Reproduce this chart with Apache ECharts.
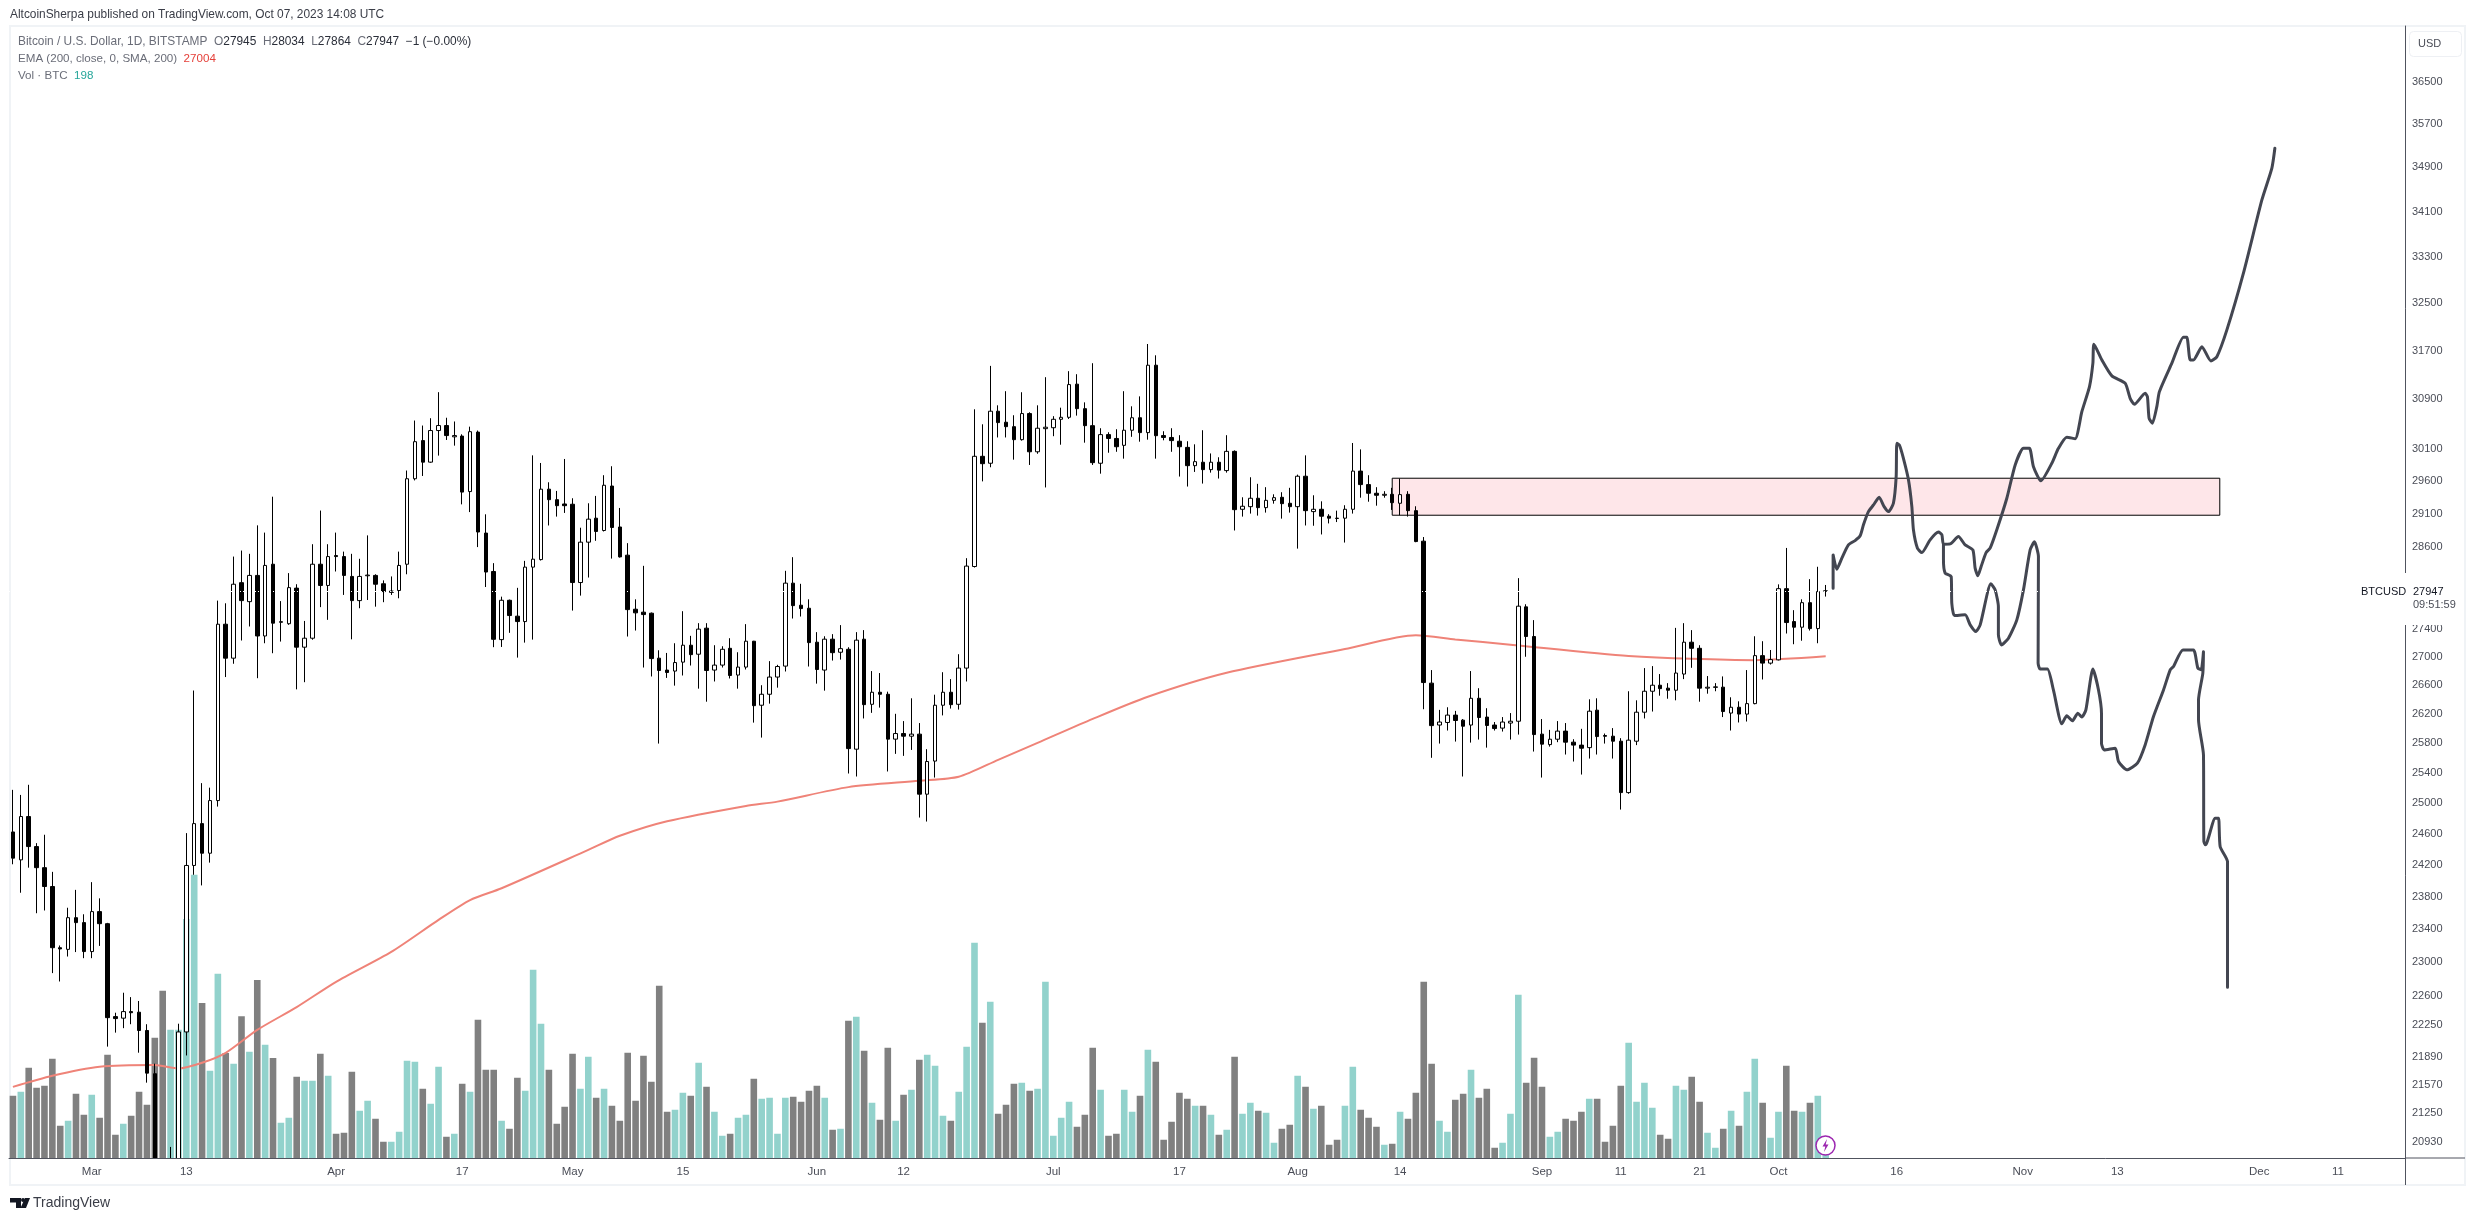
<!DOCTYPE html>
<html>
<head>
<meta charset="utf-8">
<style>html,body{margin:0;padding:0;background:#fff}#c{width:2475px;height:1221px}</style>
<script src="https://cdn.jsdelivr.net/npm/echarts@6/dist/echarts.min.js"></script>
</head>
<body>
<div id="c"></div>
<script>
const opens = [
24627,24269,24827,24439,24170,23932,23176,23156,23544,23483,
23129,23619,23470,22353,22335,22412,22405,22191,21693,20360,
20150,20450,22174,24198,24735,24354,25036,27463,26978,28068,
27790,28175,27294,28341,27490,27470,27988,27134,27262,28341,
28027,28470,28455,28160,27805,28170,28175,28052,27925,27953,
28341,29641,30240,29900,30400,30480,30300,30312,29442,30375,
28808,28233,27242,27810,27579,27501,28298,28410,29479,29317,
29251,29247,28070,28671,29034,28847,29528,28900,28476,27680,
27637,27622,26978,26810,26796,26922,27162,27034,27406,26810,
26880,27118,26740,26852,27219,26320,26472,26712,26866,28061,
27738,27694,27205,26810,27248,27062,27104,25720,27248,26333,
26500,26472,25856,25932,25896,25924,25120,25560,26320,26500,
26333,26838,28307,29992,29883,30710,30533,30462,30255,30672,
30063,30430,30445,30580,30612,31149,30751,30478,29883,30335,
30274,30165,30405,30605,30367,31460,30320,30290,30230,30133,
29845,29899,29783,29899,29768,30070,29170,29210,29339,29195,
29307,29354,29262,29210,29680,29134,29170,29064,29034,29034,
29170,29760,29550,29416,29385,29400,29262,29400,29149,28686,
26627,26048,26083,26184,26115,26048,26416,26157,26048,26006,
26075,26100,27714,27286,25924,25782,25855,25965,25815,25775,
25741,26252,25905,25896,25828,25141,25828,26224,26514,26598,
26557,26528,26754,27205,27118,26557,26568,26571,26212,26292,
26198,26342,27014,26908,26954,27980,27501,27420,27775,27400,
27945];
const highs = [
25177,25110,25244,24483,24591,24117,23203,23667,23890,23586,
23987,23784,23480,22399,22635,22583,22537,22264,21808,20370,
20876,22270,24612,26524,25266,25206,27805,27766,28455,28545,
28496,28925,28815,29363,27798,28209,28045,27510,28640,29150,
28640,28815,28529,28496,28422,28773,28192,28102,28160,28529,
29769,30560,30480,30597,31018,30605,30545,30340,30462,30400,
29093,28357,27863,27820,27992,28391,30007,29887,29586,29452,
29950,29339,28889,29262,29375,29696,29836,29190,28656,27824,
28317,27632,27090,27052,27190,27651,27296,27478,27478,27162,
27147,27262,27062,27464,27224,26598,26936,26884,28243,28446,
28051,27824,27349,27290,27320,27450,27133,27349,27378,26796,
26768,26508,26202,26102,26416,26075,25720,26466,26780,26683,
27034,28431,30741,30500,31449,30805,31034,30645,31017,30693,
30805,31263,30630,30767,31362,31312,30853,31493,30437,30373,
30421,31034,30789,30950,31812,31624,30389,30437,30326,30230,
30181,30405,30037,29977,30326,30085,29354,29664,29562,29510,
29400,29432,29500,29705,30007,29385,29292,29095,29149,29232,
30202,30101,29696,29510,29448,29500,29644,29448,29216,28748,
26810,26256,26292,26242,26130,26796,26556,26279,26089,26157,
26212,28135,27752,27522,26130,25982,26102,26075,25855,25996,
26402,26416,25932,26006,25869,26514,26388,26838,26866,26754,
26627,27410,27478,27378,27162,26726,26627,26721,26430,26374,
26810,27290,27219,27094,28043,28584,27666,27824,28120,28303,
28034];
const lows = [
24213,23854,24170,23599,23633,22869,22769,23069,23123,23049,
23049,23198,22004,22166,22218,22264,21934,21592,20050,19570,
19900,20300,21902,24080,23946,24234,24957,26712,26899,27229,
27430,26696,27190,27048,27214,27454,26540,26640,27240,27710,
27526,28233,27888,27246,27694,27814,27717,27782,27888,27839,
28192,29615,29684,29890,30003,30250,30160,29245,29127,28597,
28004,27134,27137,27339,26986,27199,27242,28396,28923,29058,
29114,27660,27878,28144,28691,28832,28425,28440,27286,27372,
26846,26720,25796,26700,26592,26734,26874,26550,26369,26650,
26846,26692,26550,26818,26081,25877,26342,26564,26790,27545,
27574,26860,26620,26522,26944,26958,25394,25354,26138,26215,
26287,25421,25657,25630,25710,24814,24762,25340,26180,26274,
26260,26650,28292,29600,29820,30290,30290,29939,30240,29856,
30032,29506,30310,30175,30585,30639,30207,29856,29720,30048,
30063,29955,30300,30223,30255,29955,30245,30063,29675,29520,
29747,29566,29736,29644,29736,28847,29058,29104,29073,29119,
29256,29027,29119,28574,28923,28919,28787,28954,28975,28665,
29104,29348,29286,29225,29348,29160,29079,29058,28670,26265,
25604,25796,25973,25823,25354,25809,25850,25741,25973,25959,
25850,25918,26998,25688,25340,25755,25815,25648,25554,25380,
25594,25648,25796,25594,24918,25125,25775,26138,26233,26452,
26410,26388,26683,26842,26369,26480,26514,26157,25973,26083,
26096,26333,26678,26888,26946,27329,27176,27226,27372,27190,
27864];
const closes = [
24291,24827,24439,24170,23932,23176,23161,23544,23483,23129,
23619,23470,22341,22330,22412,22399,22191,21700,20360,20150,
20450,22174,24198,24735,24354,25036,27463,26978,28045,27805,
28175,27294,28323,27478,27500,27995,27134,27262,28341,28027,
28455,28455,28175,27805,28160,28180,28045,27937,27945,28323,
29641,30223,29900,30400,30480,30320,30320,29434,30382,28824,
28225,27246,27810,27588,27501,28298,28416,29479,29317,29225,
29225,28070,28671,29019,28832,29540,28893,28450,27674,27627,
27602,26972,26804,26776,26916,27162,27028,27392,26804,26880,
27104,26734,26852,27219,26314,26472,26712,26860,28061,27732,
27689,27199,26818,27248,27056,27113,25728,27234,26328,26500,
26472,25856,25932,25896,25924,25120,25554,26320,26500,26328,
26838,28313,29992,29876,30710,30527,30462,30255,30672,30063,
30437,30453,30580,30612,31142,30751,30478,29892,30335,30274,
30143,30405,30605,30367,31460,30318,30290,30240,30143,29845,
29908,29783,29899,29775,30070,29164,29216,29339,29195,29307,
29348,29256,29210,29680,29149,29170,29064,29034,29030,29170,
29760,29550,29416,29385,29400,29271,29395,29149,28680,26635,
26040,26089,26184,26110,26032,26416,26151,26042,26000,26089,
26100,27724,27286,25918,25788,25855,25965,25815,25775,25733,
26238,25891,25895,25828,25141,25842,26224,26514,26598,26550,
26528,26768,27205,27118,26557,26570,26575,26233,26292,26198,
26342,27014,26908,26958,27980,27487,27420,27775,27400,27937,
27947];
const volumes = [
2490,2650,3610,2810,2890,3970,1290,1490,2570,1730,
2530,1610,4130,930,1370,1690,2650,2130,4810,6690,
5130,5130,9560,11330,6200,3490,7370,4200,3770,5670,
4250,7120,4530,4000,1410,1610,3250,3090,3090,4170,
3290,970,1010,3450,1890,2290,1570,650,650,1050,
3890,3850,2770,2170,3650,850,970,2970,2650,5530,
3530,3530,1490,1170,3210,2690,7530,5370,3530,1370,
2050,4170,2770,4050,2410,2770,2090,1490,4210,2290,
4090,3050,6890,1850,1930,2610,2490,3810,2850,1850,
890,970,1610,1730,3170,2370,2410,970,2410,2450,
2250,2690,2890,2410,1130,1170,5490,5650,4290,2210,
1530,4410,1490,2530,2730,3930,4130,3690,1690,1490,
2650,4450,8610,5410,6250,1770,2130,2970,3010,2690,
2770,7050,890,1610,2250,1250,1730,4410,2730,890,
970,2730,1850,2490,4330,3850,730,1450,2610,2370,
2090,2090,1730,930,1130,4050,1770,2210,1890,1810,
610,1170,1330,3290,2850,1970,2090,530,730,2090,
3650,1930,1610,1250,530,570,1850,1570,2610,7050,
3770,1490,1050,2330,2570,3530,2410,2770,410,610,
1770,6530,3010,4010,2850,850,1050,1570,1490,1850,
2370,2370,650,1290,2890,4610,2250,3010,2010,930,
770,2890,2730,3250,2250,1010,410,1170,1890,1290,
2650,3970,2210,810,1850,3690,1890,1850,2210,2490,
198];
const upVolumeDays = [1,7,10,14,20,21,22,23,25,26,28,30,32,34,35,37,38,40,44,45,48,49,50,51,53,54,56,58,62,65,66,67,72,73,75,84,85,87,89,90,92,93,95,96,97,98,103,105,107,109,112,114,116,117,118,120,121,122,124,128,130,131,132,133,134,138,141,142,144,150,152,154,156,157,159,160,163,165,169,170,174,176,181,182,185,189,190,191,195,196,200,205,206,207,208,211,212,215,216,218,220,221,223,224,227,229,230];
const emaDays = [0,5,11,18,21,24,27,31,36,41,48,54,58,62,73,77,83,93,97,106,115,120,125,130,137,144,154,169,178,183,190,205,221,230];
const emaValues = [21544,21670,21772,21792,21753,21818,21932,22198,22465,22765,23125,23517,23763,23910,24396,24578,24766,24966,25022,25213,25297,25350,25577,25805,26132,26438,26772,27108,27303,27245,27170,27010,26950,27004];

const bullPathDays = [230.94,230.94,231.41,232.05,232.88,233.73,234.37,234.79,235.42,236.06,236.78,237.41,237.96,238.59,238.94,239.03,239.35,239.86,240.5,240.93,241.13,241.64,242.2,243.25,244.31,244.74,244.94,245.79,246.84,247.69,248.67,248.96,249.3,249.72,250.35,250.86,251.71,252.98,254.04,255.09,255.85,256.36,257.3,258.69,259.53,260.59,261.65,262.5,263.47,263.9,264.03,265.04,266.31,267.99,268.63,269.17,270.53,270.82,271.03,271.45,272.01,272.34,273.92,275.39,275.82,276.24,276.66,277.73,278.87,279.63,280.9,283,285.34,286.61,286.99];
const bullPathPrices = [27987,28480,28268,28431,28630,28695,28767,28934,29134,29236,29354,29210,29134,29262,29673,30197,30170,29960,29624,29210,28858,28580,28514,28706,28823,28782,28640,28645,28756,28630,28554,28283,28169,28307,28514,28580,28858,29339,29856,30117,30117,29829,29608,29883,30117,30293,30271,30703,31109,31493,31808,31547,31285,31165,30918,30821,31000,30944,30597,30517,30783,31027,31493,31926,31926,31547,31547,31767,31531,31601,32048,33017,34309,34888,35252];
const bearPathDays = [244.94,244.94,245.15,245.92,246,246.33,247.69,248.33,249.05,249.6,250.96,251.5,251.91,251.91,252.3,253.19,254.25,255.09,255.94,256.48,256.99,256.95,257.21,258.13,258.89,259.96,260.59,261.3,261.99,262.5,263.01,263.9,264.61,264.99,264.99,265.33,266.73,267.15,268.21,269.55,270.53,271.59,272.86,273.71,274.13,275.32,276.66,277.22,277.64,277.93,277.85,277.3,277.3,277.93,277.98,278.19,279.42,279.84,280.05,280.98,280.98];
const bearPathPrices = [28640,28406,28209,28159,27766,27588,27598,27454,27358,27454,28051,27962,27717,27310,27166,27262,27526,27962,28554,28676,28455,26908,26824,26824,26532,26064,26174,26105,26211,26157,26256,26824,26532,26211,25801,25710,25733,25554,25444,25533,25778,26165,26532,26814,26860,27094,27094,26838,26814,27070,26768,26392,26120,25643,24504,24461,24806,24806,24437,24247,22701];
const zoneDays = [175, 280];
const zonePrices = [29649, 29079];

const priceTicks = [36500,35700,34900,34100,33300,32500,31700,30900,30100,29600,29100,28600,27400,27000,26600,26200,25800,25400,25000,24600,24200,23800,23400,23000,22600,22250,21890,21570,21250,20930];
const timeTicks = {'2023-03-01':'Mar','2023-03-13':'13','2023-04-01':'Apr','2023-04-17':'17','2023-05-01':'May','2023-05-15':'15','2023-06-01':'Jun','2023-06-12':'12','2023-07-01':'Jul','2023-07-17':'17','2023-08-01':'Aug','2023-08-14':'14','2023-09-01':'Sep','2023-09-11':'11','2023-09-21':'21','2023-10-01':'Oct','2023-10-16':'16','2023-11-01':'Nov','2023-11-13':'13','2023-12-01':'Dec','2023-12-11':'11'};

const startDate = Date.UTC(2023,1,19);
const slotCount = 304;
const categories = [];
for (let i=0;i<slotCount;i++) categories.push(new Date(startDate+i*864e5).toISOString().slice(0,10));
const upSet = new Set(upVolumeDays);
const FONT = '"Liberation Sans", Arial, sans-serif';
const GREY = '#6a6d78', DARK='#2a2e39', AXIS='#50535e';

const chart = echarts.init(document.getElementById('c'), null, {renderer:'canvas'});
chart.setOption({
  animation:false,
  backgroundColor:'#fff',
  textStyle:{fontFamily:FONT},
  grid:{left:9,right:70,top:26,bottom:63,containLabel:false},
  xAxis:[
    {type:'category',data:categories,boundaryGap:true,z:20,
     axisLine:{show:true,onZero:false,lineStyle:{color:AXIS,width:1}},axisTick:{show:false},splitLine:{show:false},
     axisLabel:{show:true,interval:(i,v)=>v in timeTicks,formatter:v=>timeTicks[v]||'',color:'#4a4d57',fontSize:11.5,margin:8,fontFamily:FONT,hideOverlap:false}},
    {type:'value',min:-0.5,max:slotCount-0.5,show:false,splitLine:{show:false}}
  ],
  yAxis:[
    {type:'log',logBase:Math.E,min:20755,max:37588,position:'right',scale:true,
     axisLine:{show:true,onZero:false,lineStyle:{color:AXIS,width:1}},axisTick:{show:false},splitLine:{show:false},minorTick:{show:false},
     axisLabel:{show:true,customValues:priceTicks,color:'#4a4d57',fontSize:11,margin:7,fontFamily:FONT,formatter:v=>String(Math.round(v)),hideOverlap:false}},
    {type:'value',min:0,max:45280,show:false,splitLine:{show:false}}
  ],
  series:[
    {type:'bar',name:'Vol',xAxisIndex:0,yAxisIndex:1,barWidth:6.6,z:1,silent:true,
     data:volumes.map((v,i)=>({value:v,itemStyle:{color:upSet.has(i)?'#92d2cc':'#808080'}}))},
    {type:'line',name:'Zone',xAxisIndex:1,yAxisIndex:0,z:2,silent:true,showSymbol:false,data:[],
     markArea:{silent:true,itemStyle:{color:'#fee6e9',borderColor:'#000',borderWidth:1,opacity:1},
       data:[[{xAxis:zoneDays[0],yAxis:zonePrices[0]},{xAxis:zoneDays[1],yAxis:zonePrices[1]}]]}},
    {type:'line',name:'EMA',xAxisIndex:1,yAxisIndex:0,z:3,silent:true,showSymbol:false,smooth:0.25,
     lineStyle:{color:'#ef8378',width:2},data:emaDays.map((d,i)=>[d,emaValues[i]])},
    {type:'candlestick',name:'BTCUSD',xAxisIndex:0,yAxisIndex:0,z:4,barWidth:4,silent:true,clip:true,
     itemStyle:{color:'#ffffff',color0:'#000000',borderColor:'#000000',borderColor0:'#000000',borderWidth:1},
     data:opens.map((o,i)=>[o,closes[i],lows[i],highs[i]])},
    {type:'line',name:'Bull path',xAxisIndex:1,yAxisIndex:0,z:5,silent:true,showSymbol:false,smooth:0.2,
     lineStyle:{color:'#434651',width:3,cap:'round',join:'round'},data:bullPathDays.map((d,i)=>[d,bullPathPrices[i]])},
    {type:'line',name:'Bear path',xAxisIndex:1,yAxisIndex:0,z:5,silent:true,showSymbol:false,smooth:0.2,
     lineStyle:{color:'#434651',width:3,cap:'round',join:'round'},data:bearPathDays.map((d,i)=>[d,bearPathPrices[i]]),
     markLine:{silent:true,symbol:'none',label:{show:false},z:6,lineStyle:{color:'#fff',width:1,type:[1,2]},data:[{yAxis:closes[closes.length-1]}]}}
  ],
  graphic:[
    {type:'rect',z:-1,silent:true,shape:{x:10,y:26,width:2455,height:1159},style:{fill:null,stroke:'#f0f3f6',lineWidth:2}},
    {type:'rect',z:10,silent:true,shape:{x:11,y:1159,width:2393,height:62},style:{fill:'#fff'}},
    {type:'line',z:11,silent:true,shape:{x1:10,y1:1185,x2:2465,y2:1185},style:{stroke:'#f0f3f6',lineWidth:2}},
    {type:'line',z:11,silent:true,shape:{x1:10,y1:1159,x2:10,y2:1185},style:{stroke:'#f0f3f6',lineWidth:2}},
    {type:'line',z:11,silent:true,shape:{x1:2405,y1:1158,x2:2465,y2:1158},style:{stroke:AXIS,lineWidth:1}},
    {type:'line',z:11,silent:true,shape:{x1:2405.5,y1:1158,x2:2405.5,y2:1185},style:{stroke:AXIS,lineWidth:1}},
    {type:'rect',z:10,silent:true,shape:{x:2355,y:573,width:108,height:52},style:{fill:'#fff'}},
    {type:'text',z:11,silent:true,x:2361,y:592,style:{text:'BTCUSD',fill:'#131722',font:'11px '+FONT,textVerticalAlign:'middle'}},
    {type:'text',z:11,silent:true,x:2413,y:592,style:{text:'27947',fill:'#131722',font:'11px '+FONT,textVerticalAlign:'middle'}},
    {type:'text',z:11,silent:true,x:2413,y:605,style:{text:'09:51:59',fill:'#4a4d57',font:'11px '+FONT,textVerticalAlign:'middle'}},
    {type:'rect',z:11,silent:true,shape:{x:2409.5,y:31.5,width:52,height:25,r:4},style:{fill:'#fff',stroke:'#eef0f4',lineWidth:1}},
    {type:'text',z:12,silent:true,x:2418,y:44,style:{text:'USD',fill:'#4a4d57',font:'11px '+FONT,textVerticalAlign:'middle'}},
    {type:'text',z:12,silent:true,x:10,y:15,style:{text:'AltcoinSherpa published on TradingView.com, Oct 07, 2023 14:08 UTC',fill:'#3a3d47',font:'11.9px '+FONT,textVerticalAlign:'middle'}},
    {type:'text',z:12,silent:true,x:18,y:42,style:{text:'{g|Bitcoin / U.S. Dollar, 1D, BITSTAMP  O}{d|27945}{g|  H}{d|28034}{g|  L}{d|27864}{g|  C}{d|27947}{d|  \u22121 (\u22120.00%)}',
      font:'11.9px '+FONT,textVerticalAlign:'middle',rich:{g:{fill:GREY,font:'11.9px '+FONT},d:{fill:DARK,font:'11.9px '+FONT}}}},
    {type:'text',z:12,silent:true,x:18,y:59,style:{text:'{g|EMA (200, close, 0, SMA, 200)  }{r|27004}',
      font:'11.6px '+FONT,textVerticalAlign:'middle',rich:{g:{fill:GREY,font:'11.6px '+FONT},r:{fill:'#e5403a',font:'11.6px '+FONT}}}},
    {type:'text',z:12,silent:true,x:18,y:76,style:{text:'{g|Vol \u00b7 BTC  }{t|198}',
      font:'11.6px '+FONT,textVerticalAlign:'middle',rich:{g:{fill:GREY,font:'11.6px '+FONT},t:{fill:'#26a69a',font:'11.6px '+FONT}}}},
    {type:'circle',z:12,silent:true,shape:{cx:1825.5,cy:1145.5,r:9.5},style:{fill:'#fff',stroke:'#9c27b0',lineWidth:1.5}},
    {type:'polygon',z:13,silent:true,shape:{points:[[1827,1139],[1822.5,1146.5],[1825.3,1146.5],[1824,1152],[1828.5,1144.5],[1825.7,1144.5]]},style:{fill:'#9c27b0'}},
    {type:'polygon',z:12,silent:true,shape:{points:[[10,1198],[21,1198],[21,1208],[16,1208],[16,1202.5],[10,1202.5]]},style:{fill:'#131722'}},
    {type:'circle',z:12,silent:true,shape:{cx:23,cy:1200,r:2},style:{fill:'#131722'}},
    {type:'polygon',z:12,silent:true,shape:{points:[[25,1198],[30,1198],[26,1208],[20.5,1208]]},style:{fill:'#131722'}},
    {type:'text',z:12,silent:true,x:33,y:1203,style:{text:'TradingView',fill:'#3a3d47',font:'14px '+FONT,textVerticalAlign:'middle'}}
  ]
});
</script>
</body>
</html>
